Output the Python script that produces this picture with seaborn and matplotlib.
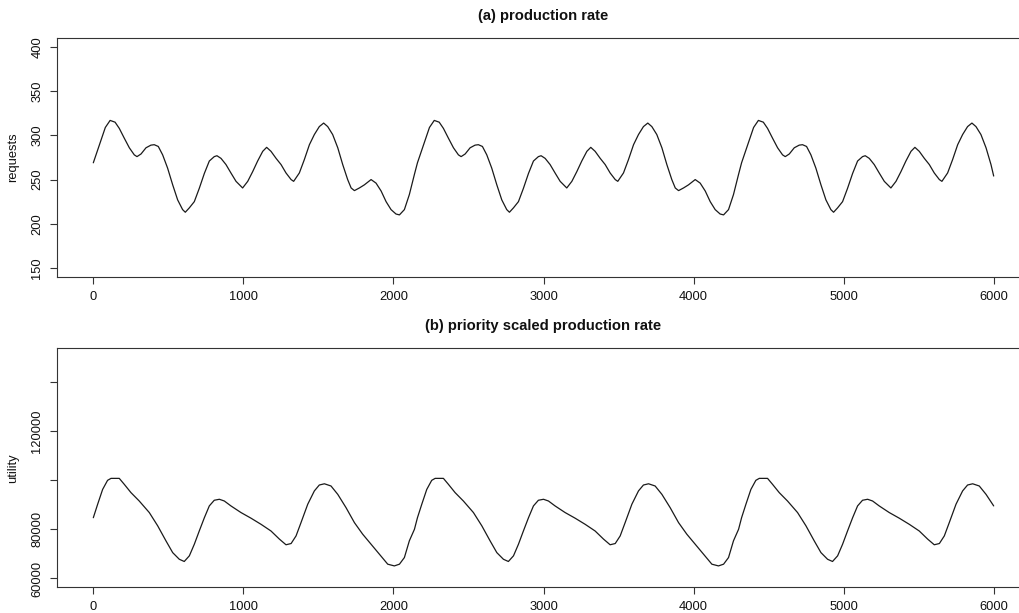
import numpy as np
import pandas as pd
import matplotlib
matplotlib.use("Agg")
import matplotlib.pyplot as plt
import seaborn as sns

# ---- data ----
# (a) production rate: time, requests
rate_t = [0, 40, 80, 112, 145, 173, 206, 240, 273, 291, 318, 351, 384, 406, 433, 462, 495, 529, 562,
          595, 613, 640, 673, 706, 740, 773, 806, 824, 851, 884, 917, 951, 995, 1029, 1062, 1095, 1129,
          1155, 1184, 1218, 1251, 1284, 1318, 1335, 1373, 1406, 1440, 1473, 1506, 1535, 1562, 1595,
          1629, 1662, 1695, 1718, 1740, 1773, 1806, 1851, 1884, 1918, 1951, 1984, 2017, 2040, 2073,
          2106, 2140,
          2160, 2200, 2240, 2272, 2305, 2333, 2366, 2400, 2433, 2451, 2478, 2511, 2544, 2566, 2593,
          2622, 2655, 2689, 2722, 2755, 2773, 2800, 2833, 2866, 2900, 2933, 2966, 2984, 3011, 3044,
          3077, 3111, 3155, 3189, 3222, 3255, 3289, 3315, 3344, 3378, 3411, 3444, 3478, 3495, 3533,
          3566, 3600, 3633, 3666, 3695, 3722, 3755, 3789, 3822, 3855, 3878, 3900, 3933, 3966, 4011,
          4044, 4078, 4111, 4144, 4177, 4200, 4233, 4266, 4300,
          4320, 4360, 4400, 4432, 4465, 4493, 4526, 4560, 4593, 4611, 4638, 4671, 4704, 4726, 4753,
          4782, 4815, 4849, 4882, 4915, 4933, 4960, 4993, 5026, 5060, 5093, 5126, 5144, 5171, 5204,
          5237, 5271, 5315, 5349, 5382, 5415, 5449, 5475, 5504, 5538, 5571, 5604, 5638, 5655, 5693,
          5726, 5760, 5793, 5826, 5855, 5882, 5915, 5949, 5982, 6000]
rate_v = [269, 289, 309, 317, 315, 308, 297, 286, 278, 276, 279, 286, 289, 289.5, 287.5, 278, 263, 244,
          227, 216, 213, 218, 225, 240, 257, 271, 276, 277, 274, 267, 257.5, 248, 240.5, 248, 259, 271,
          282, 286.5, 282, 274, 267, 257.5, 250, 248, 257.5, 272.5, 289.5, 301, 310, 314, 310, 301, 286,
          267, 250, 240.5, 237.5, 240.5, 244, 250, 246, 237, 225, 216, 211, 210, 216, 233, 256,
          269, 289, 309, 317, 315, 308, 297, 286, 278, 276, 279, 286, 289, 289.5, 287.5, 278, 263, 244,
          227, 216, 213, 218, 225, 240, 257, 271, 276, 277, 274, 267, 257.5, 248, 240.5, 248, 259, 271,
          282, 286.5, 282, 274, 267, 257.5, 250, 248, 257.5, 272.5, 289.5, 301, 310, 314, 310, 301, 286,
          267, 250, 240.5, 237.5, 240.5, 244, 250, 246, 237, 225, 216, 211, 210, 216, 233, 256,
          269, 289, 309, 317, 315, 308, 297, 286, 278, 276, 279, 286, 289, 289.5, 287.5, 278, 263, 244,
          227, 216, 213, 218, 225, 240, 257, 271, 276, 277, 274, 267, 257.5, 248, 240.5, 248, 259, 271,
          282, 286.5, 282, 274, 267, 257.5, 250, 248, 257.5, 272.5, 289.5, 301, 310, 314, 310, 301, 286,
          267, 254]

# (b) priority scaled production rate: time, utility
util_t = [0, 29, 62, 95, 118, 173, 206, 251, 306, 373, 429, 484, 529, 573, 606, 640, 673, 706, 740,
          773, 806, 840, 873, 917, 984, 1051, 1118, 1184, 1240, 1284, 1318, 1351, 1384, 1429, 1473,
          1506, 1540, 1584, 1629, 1684, 1740, 1795, 1851, 1906, 1962, 2006, 2040, 2073, 2106, 2140,
          2160, 2189, 2222, 2255, 2278, 2333, 2366, 2411, 2466, 2533, 2589, 2644, 2689, 2733, 2766,
          2800, 2833, 2866, 2900, 2933, 2966, 3000, 3033, 3077, 3144, 3211, 3278, 3344, 3400, 3444,
          3478, 3511, 3544, 3589, 3633, 3666, 3700, 3744, 3789, 3844, 3900, 3955, 4011, 4066, 4122,
          4166, 4200, 4233, 4266, 4300,
          4320, 4349, 4382, 4415, 4438, 4493, 4526, 4571, 4626, 4693, 4749, 4804, 4849, 4893, 4926,
          4960, 4993, 5026, 5060, 5093, 5126, 5160, 5193, 5237, 5304, 5371, 5438, 5504, 5560, 5604,
          5638, 5671, 5704, 5749, 5793, 5826, 5860, 5904, 5949, 6000]
util_v = [84700, 90200, 96200, 99900, 100700, 100700, 98300, 94900, 91500, 86800, 81400, 75300, 70500,
          67800, 66900, 69200, 73900, 79300, 84700, 89500, 91800, 92200, 91500, 89500, 86800, 84500,
          82000, 79300, 76000, 73700, 74200, 77300, 82700, 90200, 95600, 98000, 98500, 97600, 94200,
          88800, 82700, 78000, 73900, 69900, 65800, 65100, 65800, 68500, 75300, 80000,
          84700, 90200, 96200, 99900, 100700, 100700, 98300, 94900, 91500, 86800, 81400, 75300, 70500,
          67800, 66900, 69200, 73900, 79300, 84700, 89500, 91800, 92200, 91500, 89500, 86800, 84500,
          82000, 79300, 76000, 73700, 74200, 77300, 82700, 90200, 95600, 98000, 98500, 97600, 94200,
          88800, 82700, 78000, 73900, 69900, 65800, 65100, 65800, 68500, 75300, 80000,
          84700, 90200, 96200, 99900, 100700, 100700, 98300, 94900, 91500, 86800, 81400, 75300, 70500,
          67800, 66900, 69200, 73900, 79300, 84700, 89500, 91800, 92200, 91500, 89500, 86800, 84500,
          82000, 79300, 76000, 73700, 74200, 77300, 82700, 90200, 95600, 98000, 98500, 97600, 94200,
          89500]

x_ticks = [0, 1000, 2000, 3000, 4000, 5000, 6000]
rate_ticks = [150, 200, 250, 300, 350, 400]
util_ticks = [60000, 80000, 100000, 120000, 140000]
util_tick_labels = ["60000", "80000", "", "120000", ""]

titles = ["(a) production rate", "(b) priority scaled production rate"]
ylabels = ["requests", "utility"]

# ---- styling ----
sns.set_theme(style="ticks")
plt.rcParams["font.family"] = ["Liberation Sans", "DejaVu Sans"]
FS = 9.3

fig = plt.figure(figsize=(10.19, 6.13), dpi=100)
ax1 = fig.add_axes([57.3 / 1019, 1 - 276.7 / 613, 972.4 / 1019, 238.4 / 613])
ax2 = fig.add_axes([57.3 / 1019, 1 - 587.3 / 613, 972.4 / 1019, 239.0 / 613])

df_rate = pd.DataFrame({"time": rate_t, "value": rate_v})
df_util = pd.DataFrame({"time": util_t, "value": util_v})

sns.lineplot(data=df_rate, x="time", y="value", ax=ax1, color="#1a1a1a",
             linewidth=0.9, estimator=None, sort=False)
sns.lineplot(data=df_util, x="time", y="value", ax=ax2, color="#1a1a1a",
             linewidth=0.9, estimator=None, sort=False)

ax1.set_ylim(140, 410)
ax2.set_ylim(56400, 153600)
ax1.set_yticks(rate_ticks)
ax1.set_yticklabels([str(v) for v in rate_ticks], rotation=90, va="center")
ax2.set_yticks(util_ticks)
ax2.set_yticklabels(util_tick_labels, rotation=90, va="center")

for ax, title, yl in zip([ax1, ax2], titles, ylabels):
    ax.set_xlim(-240, 6240)
    ax.set_xticks(x_ticks)
    ax.set_xticklabels([str(v) for v in x_ticks])
    ax.set_title(title, fontsize=FS + 1.3, fontweight="bold", pad=13, color="#111111")
    ax.set_xlabel("")
    ax.set_ylabel(yl, fontsize=FS, labelpad=9, color="#111111")
    ax.tick_params(axis="both", direction="out", length=5, width=0.8, color="#333333",
                   labelsize=FS, labelcolor="#111111", pad=5)
    for s in ax.spines.values():
        s.set_visible(True)
        s.set_color("#333333")
        s.set_linewidth(0.8)
    ax.grid(False)
    ax.set_facecolor("white")

fig.savefig("out.png", dpi=100, facecolor="white")
